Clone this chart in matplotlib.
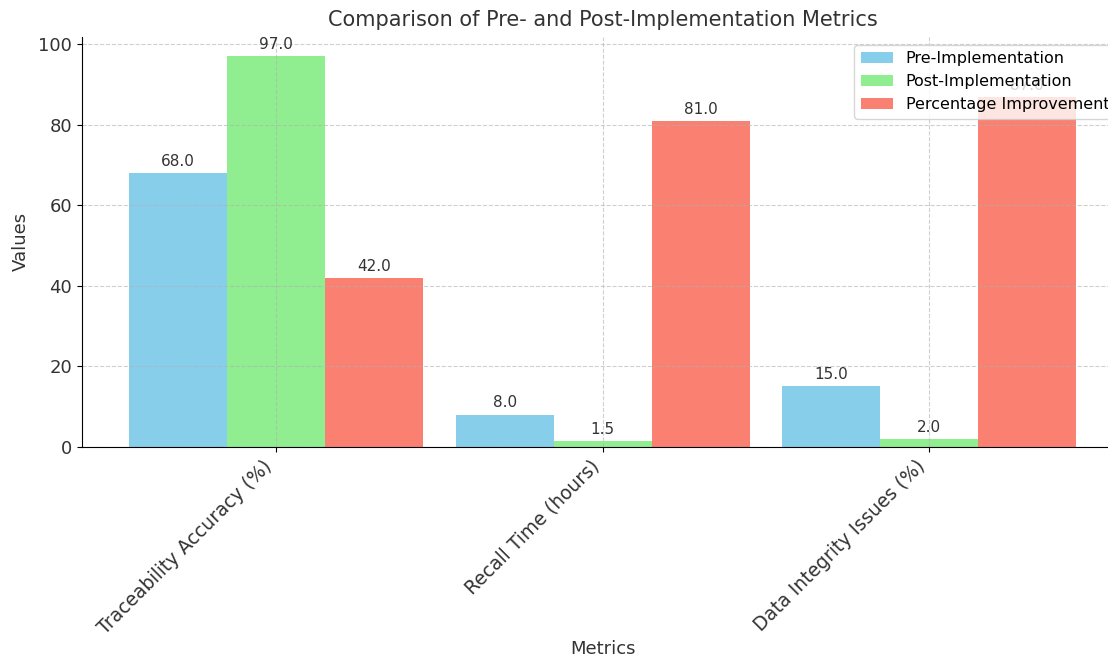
import numpy as np
import matplotlib.pyplot as plt

metrics = ['Traceability Accuracy (%)', 'Recall Time (hours)', 'Data Integrity Issues (%)']
pre = [68.0, 8.0, 15.0]
post = [97.0, 1.5, 2.0]
improvement = [42.0, 81.0, 87.0]

x = np.arange(len(metrics))
width = 0.3

fig = plt.figure(figsize=(11.08, 6.59), dpi=100)
ax = fig.add_axes([0.074, 0.322, 0.94, 0.622])

b1 = ax.bar(x - width, pre, width, label='Pre-Implementation', color='skyblue')
b2 = ax.bar(x, post, width, label='Post-Implementation', color='lightgreen')
b3 = ax.bar(x + width, improvement, width, label='Percentage Improvement', color='salmon')

# value labels above each bar
for bars in (b1, b2, b3):
    for bar in bars:
        h = bar.get_height()
        ax.annotate(f'{h:.1f}', xy=(bar.get_x() + bar.get_width() / 2, h),
                    xytext=(0, 3), textcoords='offset points',
                    ha='center', va='bottom', fontsize=11, color='#333333')

ax.set_title('Comparison of Pre- and Post-Implementation Metrics', fontsize=15, color='#333333', pad=8)
ax.set_xlabel('Metrics', fontsize=13, color='#333333', labelpad=2)
ax.set_ylabel('Values', fontsize=13, color='#333333', labelpad=6)
ax.set_xticks(x)
ax.set_xticklabels(metrics, rotation=45, ha='right', fontsize=13.5, color='#333333')
ax.tick_params(axis='y', labelsize=13, labelcolor='#333333')
ax.grid(True, linestyle='--', alpha=0.6)
ax.spines['top'].set_visible(False)
ax.spines['right'].set_visible(False)
ax.legend(loc='upper right', fontsize=11.5)

plt.savefig('out.png', dpi=100)
